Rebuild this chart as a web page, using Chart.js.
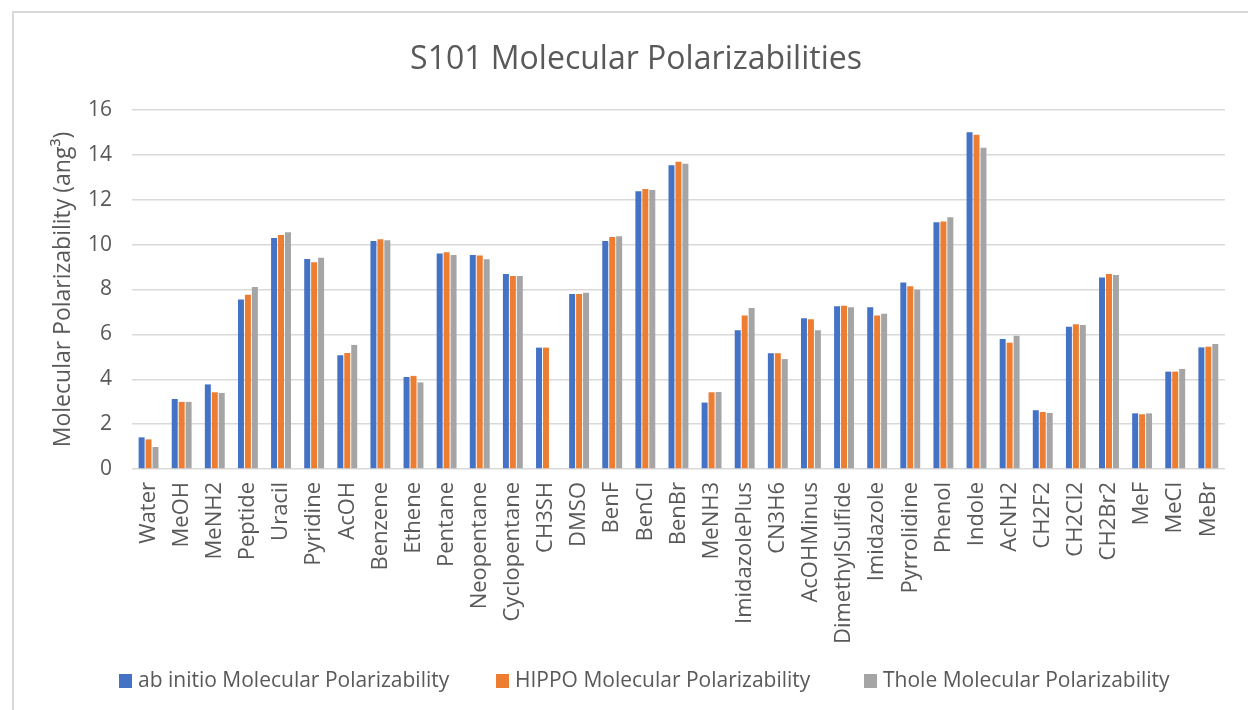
<!DOCTYPE html>
<html>
<head>
<meta charset="utf-8">
<script src="https://cdn.jsdelivr.net/npm/chart.js@4.4.0/dist/chart.umd.min.js"></script>
<style>
  body { margin: 0; background: #fff; font-family: "Open Sans", sans-serif; }
  #wrap { position: relative; width: 1248px; height: 710px; overflow: hidden; }
  #frame { position: absolute; left: 12px; top: 11px; right: -5px; bottom: -5px;
           border-left: 2px solid #d9d9d9; border-top: 2px solid #d9d9d9; }
  canvas { position: absolute; left: 0; top: 0; }
  #title { position: absolute; left: 0; top: 38px; width: 1272px; text-align: center;
           font-size: 32px; line-height: 38px; color: #595959; }
  .leg { position: absolute; top: 664px; font-size: 21px; color: #595959; white-space: nowrap; line-height: 30px; }
  .leg i { display: inline-block; width: 13px; height: 14px; margin-right: 6px; vertical-align: -1px; }
</style>
</head>
<body>
<div id="wrap">
  <div id="frame"></div>
  <canvas id="chart" width="1248" height="710"></canvas>
  <div id="title">S101 Molecular Polarizabilities</div>
  <div id="legend"></div>
</div>
<script>
const categories = ['Water', 'MeOH', 'MeNH2', 'Peptide', 'Uracil', 'Pyridine', 'AcOH', 'Benzene', 'Ethene',
  'Pentane', 'Neopentane', 'Cyclopentane', 'CH3SH', 'DMSO', 'BenF', 'BenCl', 'BenBr', 'MeNH3',
  'ImidazolePlus', 'CN3H6', 'AcOHMinus', 'DimethylSulfide', 'Imidazole', 'Pyrrolidine', 'Phenol',
  'Indole', 'AcNH2', 'CH2F2', 'CH2Cl2', 'CH2Br2', 'MeF', 'MeCl', 'MeBr'];

const abInitio = [1.41, 3.12, 3.77, 7.55, 10.30, 9.36, 5.07, 10.16, 4.10, 9.60, 9.54, 8.69, 5.41, 7.80,
  10.16, 12.38, 13.54, 2.96, 6.18, 5.16, 6.72, 7.25, 7.21, 8.31, 11.00, 15.01, 5.79, 2.62, 6.34, 8.53,
  2.48, 4.34, 5.42];
const hippo = [1.32, 2.99, 3.42, 7.77, 10.43, 9.21, 5.17, 10.24, 4.15, 9.66, 9.52, 8.60, 5.41, 7.80,
  10.34, 12.48, 13.69, 3.42, 6.84, 5.16, 6.67, 7.28, 6.84, 8.14, 11.03, 14.90, 5.63, 2.54, 6.45, 8.69,
  2.44, 4.34, 5.45];
const thole = [0.98, 2.99, 3.39, 8.11, 10.55, 9.41, 5.53, 10.19, 3.86, 9.54, 9.35, 8.60, null, 7.85,
  10.37, 12.44, 13.60, 3.43, 7.18, 4.90, 6.18, 7.21, 6.92, 7.99, 11.22, 14.32, 5.94, 2.50, 6.42, 8.65,
  2.48, 4.46, 5.57];

const seriesNames = ['ab initio Molecular Polarizability', 'HIPPO Molecular Polarizability', 'Thole Molecular Polarizability'];
const seriesColors = ['#4472C4', '#ED7D31', '#A5A5A5'];
const legendLeft = [119, 496, 864];

const textColor = '#595959';
const fontFamily = '"Open Sans", sans-serif';

const datasets = [abInitio, hippo, thole].map((values, i) => ({
  label: seriesNames[i],
  data: values,
  backgroundColor: seriesColors[i],
  categoryPercentage: 0.63,
  barPercentage: 0.86
}));

new Chart(document.getElementById('chart').getContext('2d'), {
  type: 'bar',
  data: { labels: categories, datasets: datasets },
  options: {
    responsive: false,
    animation: false,
    devicePixelRatio: 1,
    // top padding leaves room for the html title
    layout: { padding: { left: 0, right: 17, top: 110, bottom: 0 } },
    plugins: {
      legend: { display: false },
      tooltip: { enabled: false },
      title: { display: false }
    },
    scales: {
      x: {
        grid: { display: false, drawTicks: false },
        border: { display: false },
        ticks: {
          autoSkip: false,
          minRotation: 90,
          maxRotation: 90,
          padding: 13,
          color: textColor,
          font: { family: fontFamily, size: 22 }
        },
        afterFit: function (scale) { scale.height = 241; }
      },
      y: {
        min: 0,
        max: 16,
        grid: { color: '#d9d9d9', lineWidth: 1.5, drawTicks: false },
        border: { display: false },
        ticks: {
          stepSize: 2,
          padding: 20,
          color: textColor,
          font: { family: fontFamily, size: 21 }
        },
        title: {
          display: true,
          text: 'Molecular Polarizability (ang³)',
          color: textColor,
          font: { family: fontFamily, size: 23 },
          padding: { top: 50, bottom: 0 }
        },
        afterFit: function (scale) { scale.width = 132; }
      }
    }
  }
});

// legend drawn as html so the item spacing can follow the reference
const legend = document.getElementById('legend');
seriesNames.forEach((name, i) => {
  const item = document.createElement('div');
  item.className = 'leg';
  item.style.left = legendLeft[i] + 'px';
  item.innerHTML = '<i style="background:' + seriesColors[i] + '"></i>' + name;
  legend.appendChild(item);
});
</script>
</body>
</html>
